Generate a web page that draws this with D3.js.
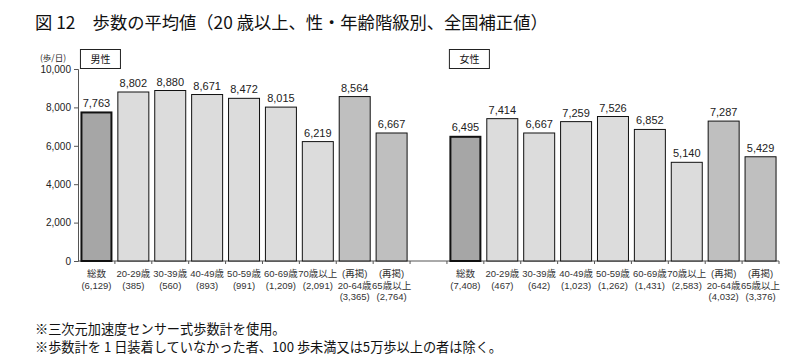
<!DOCTYPE html>
<html><head><meta charset="utf-8">
<script src="https://cdn.jsdelivr.net/npm/d3@7"></script>
<style>
html,body{margin:0;padding:0;background:#fff;}
svg{display:block;}
</style></head>
<body>
<svg id="c" width="800" height="355"></svg>
<script>
const titleText = "図 12　歩数の平均値（20 歳以上、性・年齢階級別、全国補正値）";
const footnotes = ["※三次元加速度センサー式歩数計を使用。", "※歩数計を 1 日装着していなかった者、100 歩未満又は5万歩以上の者は除く。"];
const unitLabel = "(歩/日)";
const groups = ["男性", "女性"];
const ageGroups = ["総数", "20-29歳", "30-39歳", "40-49歳", "50-59歳", "60-69歳", "70歳以上", "(再掲)\n20-64歳", "(再掲)\n65歳以上"];
const barKinds = ["total", "age", "age", "age", "age", "age", "age", "re", "re"];
const maleCounts = ["(6,129)", "(385)", "(560)", "(893)", "(991)", "(1,209)", "(2,091)", "(3,365)", "(2,764)"];
const femaleCounts = ["(7,408)", "(467)", "(642)", "(1,023)", "(1,262)", "(1,431)", "(2,583)", "(4,032)", "(3,376)"];
const maleSteps = [7763, 8802, 8880, 8671, 8472, 8015, 6219, 8564, 6667];
const femaleSteps = [6495, 7414, 6667, 7259, 7526, 6852, 5140, 7287, 5429];
const yTicks = [0, 2000, 4000, 6000, 8000, 10000];

const svg = d3.select("#c");
const FONT = "'Liberation Sans', Arial, 'Noto Sans CJK JP', sans-serif";
const JFONT = "'Noto Sans CJK JP', sans-serif";

// build slots: male 9, spacer, female 9
const rows = [];
ageGroups.forEach((a, i) => rows.push({key: "m" + i, group: 0, label: a.split("\n").concat([maleCounts[i]]), value: maleSteps[i], kind: barKinds[i]}));
const spacer = "gap";
ageGroups.forEach((a, i) => rows.push({key: "f" + i, group: 1, label: a.split("\n").concat([femaleCounts[i]]), value: femaleSteps[i], kind: barKinds[i]}));
const domain = rows.slice(0, 9).map(d => d.key).concat([spacer]).concat(rows.slice(9).map(d => d.key));

const x = d3.scaleBand().domain(domain).range([78, 779]).paddingInner(0.16).paddingOuter(0.08);
const y = d3.scaleLinear().domain([0, 10000]).range([261, 69]);
const step = x.step();

const fill = {total: "#a6a6a6", age: "#dcdcdc", re: "#bfbfbf"};

// title
svg.append("text").attr("x", 35).attr("y", 29).attr("font-family", JFONT).attr("font-size", 17.3)
  .attr("fill", "#111").text(titleText);

// y axis
const yAxis = d3.axisLeft(y).tickValues(yTicks).tickSize(4).tickPadding(3).tickFormat(d3.format(","));
const ga = svg.append("g").attr("transform", "translate(78,0)").call(yAxis);
ga.select(".domain").attr("stroke", "#555");
ga.selectAll(".tick line").attr("stroke", "#555");
ga.selectAll(".tick text").attr("font-family", FONT).attr("font-size", 10).attr("fill", "#222");

svg.append("text").attr("x", 53).attr("y", 61).attr("text-anchor", "middle")
  .attr("font-family", JFONT).attr("font-size", 8.5).attr("fill", "#222").text(unitLabel);

// baseline (x axis)
const gb = svg.append("g").attr("transform", `translate(0,${y(0)})`);
gb.append("line").attr("x1", x.range()[0]).attr("x2", x.range()[1]).attr("stroke", "#555");
// boundary ticks
const bounds = domain.map(k => x(k) - step * x.paddingInner() / 2).concat([x(domain[domain.length - 1]) + x.bandwidth() + step * x.paddingInner() / 2]);
gb.selectAll("line.tk").data(bounds.slice(1)).join("line").attr("class", "tk")
  .attr("x1", d => d).attr("x2", d => d).attr("y1", 0).attr("y2", 3).attr("stroke", "#555");

// bars
svg.selectAll("rect.bar").data(rows).join("rect").attr("class", "bar")
  .attr("x", d => x(d.key) + (d.kind === "total" ? 0.5 : 0))
  .attr("width", d => x.bandwidth() - (d.kind === "total" ? 1 : 0))
  .attr("y", d => y(d.value) + (d.kind === "total" ? 0.5 : 0))
  .attr("height", d => y(0) - y(d.value) - (d.kind === "total" ? 0.5 : 0))
  .attr("fill", d => fill[d.kind])
  .attr("stroke", "#111")
  .attr("stroke-width", d => d.kind === "total" ? 2 : 1);

// value labels
svg.selectAll("text.val").data(rows).join("text").attr("class", "val")
  .attr("x", d => x(d.key) + x.bandwidth() / 2)
  .attr("y", d => y(d.value) - 5)
  .attr("text-anchor", "middle").attr("font-family", FONT).attr("font-size", 11).attr("fill", "#222")
  .text(d => d3.format(",")(d.value));

// category labels
const cl = svg.selectAll("text.cat").data(rows).join("text").attr("class", "cat")
  .attr("text-anchor", "middle").attr("font-family", FONT).attr("font-size", 9.5).attr("fill", "#333");
cl.selectAll("tspan").data(d => d.label.map(t => ({t, cx: x(d.key) + x.bandwidth() / 2}))).join("tspan")
  .attr("x", d => d.cx).attr("y", (d, i) => 277 + i * 11.5).text(d => d.t);

// group label boxes
const boxes = [{g: groups[0], k: "m0"}, {g: groups[1], k: "f0"}];
boxes.forEach(b => {
  const bx = x(b.k) - 0.5;
  svg.append("rect").attr("x", bx).attr("y", 49.5).attr("width", 40).attr("height", 19)
    .attr("fill", "#fff").attr("stroke", "#222");
  svg.append("text").attr("x", bx + 20).attr("y", 63).attr("text-anchor", "middle")
    .attr("font-family", JFONT).attr("font-size", 10).attr("fill", "#111").text(b.g);
});

// footnotes
footnotes.forEach((f, i) => {
  svg.append("text").attr("x", 35).attr("y", 333.5 + i * 18).attr("font-family", JFONT)
    .attr("font-size", 13.2).attr("fill", "#111").text(f);
});
</script>
</body></html>
